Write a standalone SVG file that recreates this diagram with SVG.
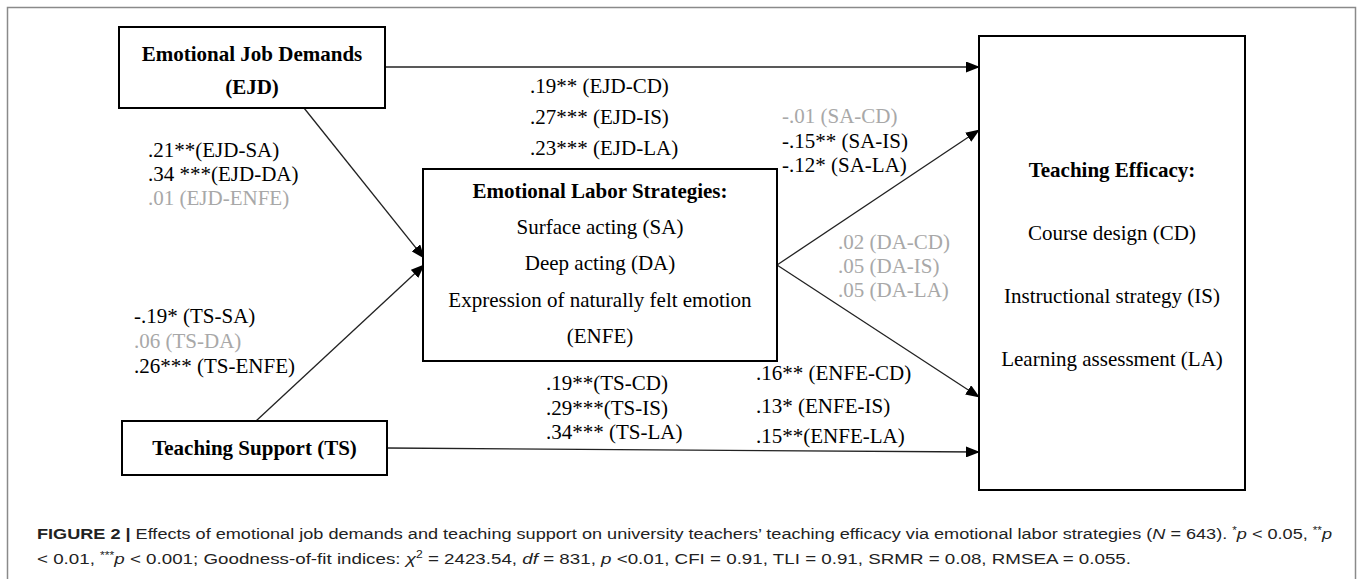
<svg xmlns="http://www.w3.org/2000/svg" width="1357" height="579" viewBox="0 0 1357 579">
<defs>
<style>
.t{font-family:"Liberation Serif","Times New Roman",serif;font-size:21px;fill:#000}
.b{font-weight:bold}
.g{fill:#a8a8a8}
.c{text-anchor:middle}
.box{fill:#fff;stroke:#000;stroke-width:2}
.ln{stroke:#222;stroke-width:1.3;fill:none;marker-end:url(#ah)}
.cap{font-family:"Liberation Sans",Arial,sans-serif;font-size:15.5px;fill:#222}
</style>
<marker id="ah" markerUnits="userSpaceOnUse" markerWidth="14" markerHeight="11" refX="13" refY="5.5" orient="auto">
<path d="M0,0 L14,5.5 L0,11 z" fill="#000"/>
</marker>
</defs>
<rect x="0" y="0" width="1357" height="579" fill="#fff"/>
<rect x="7.5" y="7.5" width="1348" height="600" fill="none" stroke="#8a8a8a" stroke-width="1.5"/>

<g id="connectors">
<line class="ln" x1="385" y1="67" x2="979" y2="67"/>
<line class="ln" x1="304" y1="108" x2="424" y2="258"/>
<line class="ln" x1="256" y1="421" x2="424" y2="265"/>
<line class="ln" x1="387" y1="448" x2="979" y2="452"/>
<line class="ln" x1="777" y1="265" x2="979" y2="130"/>
<line class="ln" x1="777" y1="265" x2="979" y2="397"/>
</g>

<g id="EJD">
<rect class="box" x="119" y="27" width="266" height="81"/>
<text class="t b c" x="252" y="61">Emotional Job Demands</text>
<text class="t b c" x="252" y="94">(EJD)</text>
</g>

<g id="TS">
<rect class="box" x="122" y="421" width="265" height="54"/>
<text class="t b c" x="254.5" y="455">Teaching Support (TS)</text>
</g>

<g id="ELS">
<rect class="box" x="423" y="169" width="354" height="192"/>
<text class="t b c" x="600" y="198">Emotional Labor Strategies:</text>
<text class="t c" x="600" y="234">Surface acting (SA)</text>
<text class="t c" x="600" y="270">Deep acting (DA)</text>
<text class="t c" x="600" y="307">Expression of naturally felt emotion</text>
<text class="t c" x="600" y="343">(ENFE)</text>
</g>

<g id="TE">
<rect class="box" x="979" y="36" width="266" height="454"/>
<text class="t b c" x="1112" y="177">Teaching Efficacy:</text>
<text class="t c" x="1112" y="240">Course design (CD)</text>
<text class="t c" x="1112" y="303">Instructional strategy (IS)</text>
<text class="t c" x="1112" y="366">Learning assessment (LA)</text>
</g>

<g id="labels">
<text class="t" x="148" y="157">.21**(EJD-SA)</text>
<text class="t" x="148" y="181">.34 ***(EJD-DA)</text>
<text class="t g" x="148" y="205">.01 (EJD-ENFE)</text>

<text class="t" x="530" y="93">.19** (EJD-CD)</text>
<text class="t" x="530" y="124">.27*** (EJD-IS)</text>
<text class="t" x="530" y="155">.23*** (EJD-LA)</text>

<text class="t g" x="782" y="123">-.01 (SA-CD)</text>
<text class="t" x="782" y="148">-.15** (SA-IS)</text>
<text class="t" x="782" y="172">-.12* (SA-LA)</text>

<text class="t g" x="838" y="249">.02 (DA-CD)</text>
<text class="t g" x="838" y="273">.05 (DA-IS)</text>
<text class="t g" x="838" y="297">.05 (DA-LA)</text>

<text class="t" x="134" y="323">-.19* (TS-SA)</text>
<text class="t g" x="134" y="348">.06 (TS-DA)</text>
<text class="t" x="134" y="373">.26*** (TS-ENFE)</text>

<text class="t" x="546" y="390">.19**(TS-CD)</text>
<text class="t" x="546" y="415">.29***(TS-IS)</text>
<text class="t" x="546" y="439">.34*** (TS-LA)</text>

<text class="t" x="756" y="380">.16** (ENFE-CD)</text>
<text class="t" x="756" y="413">.13* (ENFE-IS)</text>
<text class="t" x="756" y="443">.15**(ENFE-LA)</text>
</g>

<g id="caption">
<text class="cap" x="37" y="539" textLength="1295" lengthAdjust="spacingAndGlyphs"><tspan font-weight="bold" fill="#222">FIGURE 2</tspan><tspan font-weight="bold"> | </tspan>Effects of emotional job demands and teaching support on university teachers’ teaching efficacy via emotional labor strategies (<tspan font-style="italic">N</tspan> = 643). <tspan font-size="10" dy="-5">*</tspan><tspan font-style="italic" dy="5">p</tspan> &lt; 0.05, <tspan font-size="10" dy="-5">**</tspan><tspan font-style="italic" dy="5">p</tspan></text>
<text class="cap" x="37" y="564" textLength="1094" lengthAdjust="spacingAndGlyphs">&lt; 0.01, <tspan font-size="10" dy="-5">***</tspan><tspan font-style="italic" dy="5">p</tspan> &lt; 0.001; Goodness-of-fit indices: <tspan font-style="italic">χ</tspan><tspan font-size="10" dy="-6">2</tspan><tspan dy="6"> = 2423.54, </tspan><tspan font-style="italic">df</tspan> = 831, <tspan font-style="italic">p</tspan> &lt;0.01, CFI = 0.91, TLI = 0.91, SRMR = 0.08, RMSEA = 0.055.</text>
</g>
</svg>
